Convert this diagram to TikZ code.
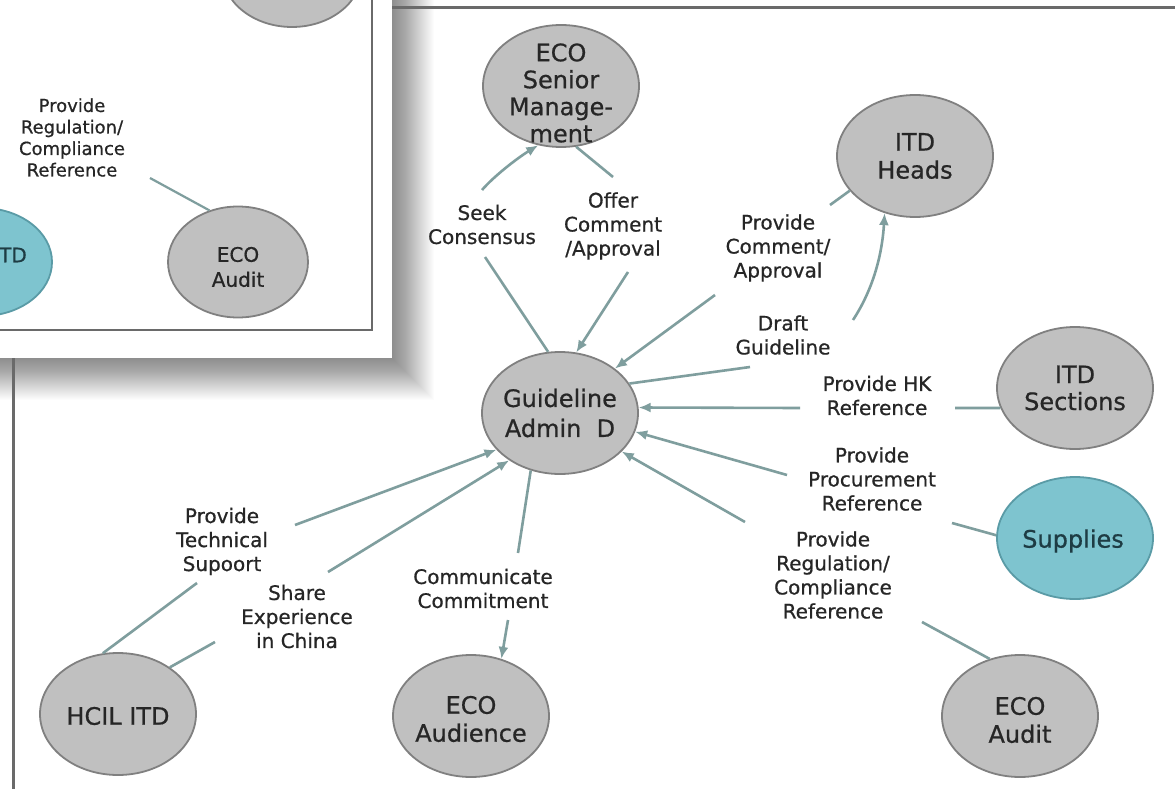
\documentclass[tikz,border=0pt]{standalone}
\usepackage{fontspec}
\setmainfont[FakeBold=0.7]{DejaVu Sans}
\usetikzlibrary{arrows.meta,shapes.geometric}
\definecolor{nodegray}{HTML}{C0C0C0}
\definecolor{nodeedge}{HTML}{808080}
\definecolor{tealfill}{HTML}{7EC4CF}
\definecolor{tealedge}{HTML}{5A9BA6}
\definecolor{conn}{HTML}{7F9E9E}
\definecolor{txt}{HTML}{262626}
\definecolor{tealtxt}{HTML}{1E3C44}
\definecolor{framec}{HTML}{6A6A6A}
\tikzset{
  ent/.style={shape=ellipse, draw=nodeedge, fill=nodegray, line width=1.8pt,
    minimum width=156pt, minimum height=122pt, inner sep=0pt},
  tealent/.style={ent, draw=tealedge, fill=tealfill},
  enttxt/.style={text=txt, align=center, font=\fontsize{24}{28}\selectfont, inner sep=0pt},
  smalltxt/.style={text=txt, align=center, font=\fontsize{20}{25}\selectfont, inner sep=0pt},
  lbl/.style={text=txt, align=center, font=\fontsize{20}{24}\selectfont, inner sep=0pt},
  link/.style={draw=conn, line width=2.6pt},
  arr/.style={link, -{Latex[length=12pt,width=10pt]}},
  framebox/.style={draw=framec, line width=3pt},
}
\begin{document}
\begin{tikzpicture}[x=1pt,y=-1pt]
\useasboundingbox (0,0) rectangle (1175,789);
\clip (0,0) rectangle (1175,789);
\fill[white] (0,0) rectangle (1175,789);
% shadow of the front window
\foreach \k in {1,...,42} {
  \fill[black, fill opacity=0.012] (-60,-60) rectangle ({392+\k},{358+\k});
}
% main frame
\draw[framebox] (13,8) -- (1200,8);
\draw[framebox] (13,8) -- (13,820);
% front window
\fill[white] (-60,-60) rectangle (392,358);
\draw[draw=framec, line width=2pt] (-60,-60) rectangle (372,330);
\node[ent, minimum width=140pt, minimum height=112pt] (wtop) at (292,-29) {};
\node[ent, minimum width=140pt, minimum height=111pt] (waud) at (238,262) {};
\node[smalltxt] (waudt) at (238,267) {ECO\\Audit};
\node[tealent, minimum width=140pt, minimum height=108pt] (witd) at (-18,262) {};
\node[smalltxt, text=tealtxt, anchor=east] (witdt) at (27,255) {ITD};
\node[lbl, font=\fontsize{18}{21.5}\selectfont] (wreg) at (72,137.5) {Provide\\Regulation/\\Compliance\\Reference};
\coordinate (wregB) at (150,178);
\draw[link, line width=2.2pt] (wregB) -- (waud.119);

% main diagram nodes
\node[ent] (esm) at (561,86) {};
\node[enttxt, font=\fontsize{24}{27}\selectfont] (esmt) at (561,93) {ECO\\Senior\\Manage-\\ment};
\node[ent] (ith) at (915,156) {};
\node[enttxt] (itht) at (915,156) {ITD\\Heads};
\node[ent] (its) at (1075,388) {};
\node[enttxt, font=\fontsize{24}{27}\selectfont] (itst) at (1075,388) {ITD\\Sections};
\node[tealent] (sup) at (1075,538) {};
\node[enttxt, text=tealtxt] (supt) at (1073,541) {Supplies};
\node[ent] (aud) at (1020,716) {};
\node[enttxt] (audt) at (1020,720) {ECO\\Audit};
\node[ent] (gad) at (560,413) {};
\node[enttxt, font=\fontsize{24}{30}\selectfont] (gadt) at (560,413) {Guideline\\Admin~~D};
\node[ent] (hcil) at (118,714) {};
\node[enttxt] (hcilt) at (118,716) {HCIL ITD};
\node[ent] (eaud) at (471,716) {};
\node[enttxt] (eaudt) at (471,719) {ECO\\Audience};

% labels
\node[lbl] (seek) at (482,224.5) {Seek\\Consensus};
\node[lbl] (offer) at (613,226) {Offer\\Comment\\/Approval};
\node[lbl] (pca) at (778,248) {Provide\\Comment/\\Approval};
\node[lbl] (draft) at (783,335) {Draft\\Guideline};
\node[lbl] (hk) at (877,395.5) {Provide HK\\Reference};
\node[lbl] (proc) at (872,479) {Provide\\Procurement\\Reference};
\node[lbl] (reg) at (833,575) {Provide\\Regulation/\\Compliance\\Reference};
\node[lbl] (comm) at (483,588.5) {Communicate\\Commitment};
\node[lbl] (tech) at (222,541.5) {Provide\\Technical\\Supoort};
\node[lbl] (share) at (297,616.5) {Share\\Experience\\in China};

% free ends of connectors
\coordinate (seekA) at (482,190);
\coordinate (seekB) at (485,257);
\coordinate (offerA) at (613,177);
\coordinate (offerB) at (628,272);
\coordinate (pcA) at (830,205);
\coordinate (pcB) at (715,295);
\coordinate (draftA) at (750,367);
\coordinate (draftB) at (853,320);
\coordinate (hkA) at (800,408);
\coordinate (hkB) at (955,408);
\coordinate (procA) at (787,475);
\coordinate (procB) at (952,523);
\coordinate (regA) at (745,522);
\coordinate (regB) at (922,622);
\coordinate (commA) at (518,553);
\coordinate (commB) at (508,620);
\coordinate (techA) at (295,525);
\coordinate (techB) at (197,583);
\coordinate (shareA) at (328,572);
\coordinate (shareB) at (215,642);

% connectors
\draw[arr] (seekA) .. controls (495,175) and (519,157) .. (esm.-111);
\draw[link] (seekB) -- (gad.101);
\draw[link] (esm.-76) -- (offerA);
\draw[arr] (offerB) -- (gad.75);
\draw[link] (pcA) -- (ith.-152);
\draw[arr] (pcB) -- (gad.39);
\draw[link] (gad.23) -- (draftA);
\draw[arr] (draftB) .. controls (872,291) and (882,257) .. (ith.-118);
\draw[arr] (hkA) -- (gad.4);
\draw[link] (hkB) -- (its.-165);
\draw[arr] (procA) -- (gad.-14);
\draw[link] (procB) -- (sup.178);
\draw[arr] (regA) -- (gad.-32);
\draw[link] (regB) -- (aud.118);
\draw[link] (gad.-117) -- (commA);
\draw[arr] (commB) -- (eaud.62);
\draw[arr] (techA) -- (gad.-150);
\draw[link] (techB) -- (hcil.104);
\draw[arr] (shareA) -- (gad.-137);
\draw[link] (shareB) -- (hcil.42);
\end{tikzpicture}
\end{document}
